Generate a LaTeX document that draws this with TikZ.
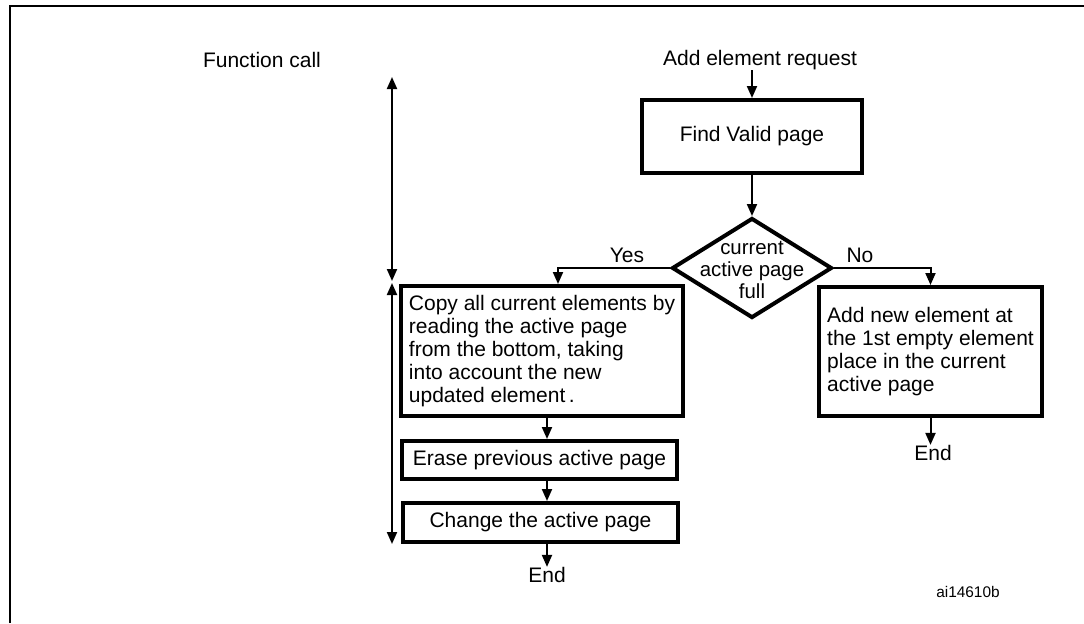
\documentclass[tikz,border=0pt]{standalone}
\usepackage{fontspec}
\setmainfont{Liberation Sans}
\usetikzlibrary{shapes.geometric,arrows.meta,positioning}

\begin{document}
\begin{tikzpicture}[
    x=0.5pt, y=-0.5pt,
    font=\fontsize{10.5}{11.5}\selectfont,
    box/.style={rectangle, draw, line width=2pt, inner sep=0pt, align=center},
    decision/.style={diamond, draw, line width=2pt, minimum width=80pt, minimum height=50pt, inner sep=0pt},
    arrow/.style={-{Triangle[length=6pt,width=5pt]}, line width=1pt},
    twoway/.style={{Triangle[length=6pt,width=5pt]}-{Triangle[length=6pt,width=5pt]}, line width=1pt},
    txt/.style={inner sep=0pt},
    tag/.style={inner sep=0pt, font=\fontsize{7.7}{9}\selectfont}
]
    \useasboundingbox (0,0) rectangle (1084,623);

    % Frame
    \draw[line width=1.1pt] (10,623) -- (10,6) -- (1084,6);

    % Function call span
    \node[txt] (call) at (262,60) {Function call};
    \coordinate (calltop) at (392,77);
    \coordinate (callmida) at (392,281);
    \coordinate (callmidb) at (392,283);
    \coordinate (callbot) at (392,544);

    % Request
    \node[txt] (req) at (760,60) {Add element request};

    % Find page
    \node[box, minimum width=110pt, minimum height=36.5pt] (find) at (752,136.5) {Find Valid page};

    % Decision
    \node[decision] (dec) at (752,268) {};
    \node[txt, align=center, font=\fontsize{10.2}{11}\selectfont] (dectxt) at (752,270) {current\\active page\\full};

    % Yes branch
    \node[box, align=left, minimum width=141pt, minimum height=65pt] (copy) at (542,351)
        {Copy all current elements by\\reading the active page\\from the bottom, taking\\into account the new\\updated element\,.};
    \node[box, minimum width=137.5pt, minimum height=19pt] (erase) at (539.5,460) {Erase previous active page};
    \node[box, minimum width=137.5pt, minimum height=19.5pt] (change) at (540.5,522.5) {Change the active page};
    \node[txt] (endyes) at (547,575) {End};

    % No branch
    \node[box, align=left, minimum width=111.5pt, minimum height=64.5pt] (add) at (930.5,351.5)
        {Add new element at\\the 1st empty element\\place in the current\\active page};
    \node[txt] (endno) at (933,453) {End};

    % Labels
    \node[txt] (yes) at (627,255) {Yes};
    \node[txt] (no) at (860,255) {No};
    \node[tag] (fig) at (968,592) {ai14610b};

    \coordinate (yesx) at (558,0);
    \coordinate (flowx) at (547,0);

    % Arrows
    \draw[arrow] (req.south -| find) -- (find);
    \draw[arrow] (find) -- (dec);
    \draw[arrow] (dec.west) -| (yesx |- copy.north);
    \draw[arrow] (dec.east) -| (add.north);
    \draw[arrow] (copy.south -| flowx) -- (erase.north -| flowx);
    \draw[arrow] (erase.south -| flowx) -- (change.north -| flowx);
    \draw[arrow] (change.south -| flowx) -- (endyes);
    \draw[arrow] (add.south) -- (add.south |- endno.north);
    \draw[twoway] (calltop) -- (callmida);
    \draw[twoway] (callmidb) -- (callbot);

\end{tikzpicture}
\end{document}
